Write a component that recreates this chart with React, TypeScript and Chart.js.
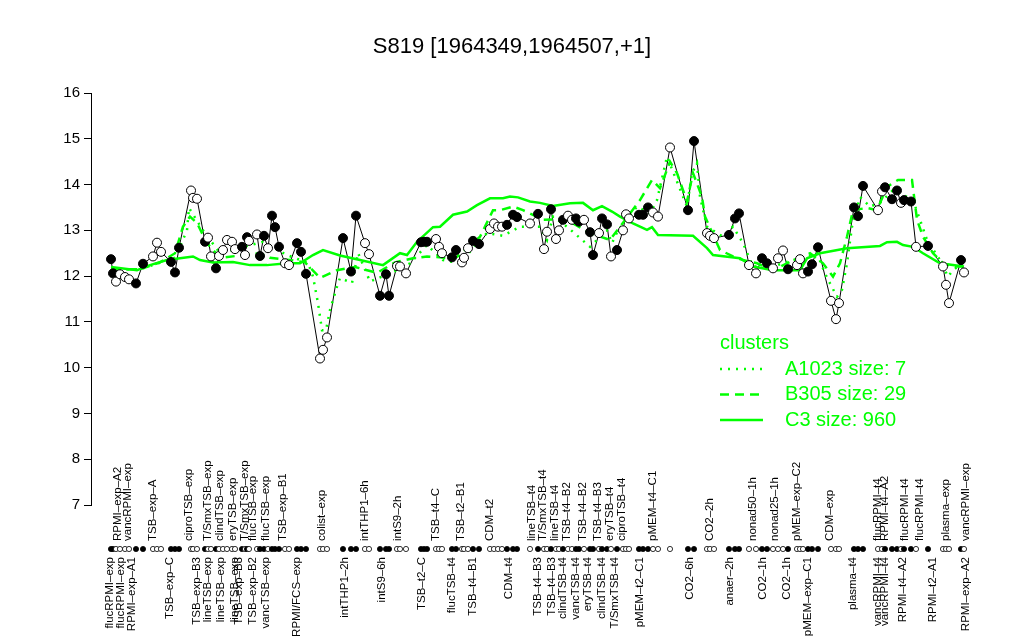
import React, { useEffect, useRef } from 'react';
import { Chart, registerables } from 'chart.js';

Chart.register(...registerables);

const TITLE = 'S819 [1964349,1964507,+1]';
const FONT = '"Liberation Sans", Arial, Helvetica, sans-serif';
const GREEN = '#00ff00';

// sample positions along the x axis, expression values, filled (1) / open (0)
const samplePos = [
  20, 22, 25, 29, 34, 38, 45, 52, 62, 66, 70, 80, 84, 88, 100, 102, 106,
  114, 117, 120, 125, 128, 132, 136, 141, 144, 151, 154, 156, 158, 166, 169, 173, 177, 181, 184, 188, 194, 198,
  206, 210, 215, 229, 232, 236, 252, 260, 265, 274, 278, 289, 295, 298, 306, 309, 315,
  330, 333, 336, 345, 348, 351, 361, 365, 371, 373, 377, 382, 388,
  399, 403, 407, 411, 416, 422, 426, 439, 447,
  453, 456, 460, 465, 468, 472, 477, 481, 485, 488, 493, 499, 502, 508, 511, 516, 520, 526, 532, 535, 538,
  548, 552, 557, 562, 567, 579, 597, 603, 616, 619, 623, 638, 644, 648,
  658, 665, 671, 676, 682, 687, 692, 697, 706, 709, 712, 717, 721, 727, 740, 745, 748,
  763, 767, 772, 787, 791, 794, 801, 806, 810, 813, 820, 825, 837, 852, 855, 858, 870, 873,
];
const sampleExpr = [
  12.37, 12.06, 11.88, 12.04, 11.98, 11.93, 11.84, 12.27, 12.43, 12.73, 12.53, 12.31, 12.08, 12.62, 13.87, 13.71, 13.69,
  12.75, 12.84, 12.43, 12.17, 12.44, 12.57, 12.79, 12.75, 12.59, 12.64, 12.46, 12.85, 12.77, 12.91, 12.44, 12.88, 12.61, 13.32, 13.07, 12.64, 12.28, 12.24,
  12.72, 12.53, 12.05, 10.2, 10.39, 10.66, 12.83, 12.1, 13.32, 12.72, 12.48, 11.57, 12.04, 11.57, 12.22, 12.21, 12.06,
  12.74, 12.75, 12.75, 12.81, 12.64, 12.5, 12.41, 12.57, 12.3, 12.4, 12.61, 12.77, 12.7,
  13.03, 13.15, 13.08, 13.08, 13.12, 13.34, 13.29, 13.15, 13.36,
  12.59, 12.97, 13.46, 12.81, 13.0, 13.23, 13.32, 13.23, 13.26, 13.19, 13.23, 12.96, 12.46, 12.94, 13.26, 13.13, 12.43, 12.57, 13.0, 13.35, 13.26,
  13.34, 13.34, 13.5, 13.39, 13.3, 14.81, 13.44, 14.95, 12.94, 12.88, 12.83, 12.9, 13.26, 13.37,
  12.24, 12.06, 12.39, 12.28, 12.17, 12.39, 12.56, 12.15, 12.24, 12.37, 12.06, 12.1, 12.26, 12.63, 11.46, 11.06, 11.41,
  13.5, 13.31, 13.97, 13.44, 13.85, 13.94, 13.68, 13.87, 13.6, 13.66, 13.63, 12.64, 12.66, 12.21, 11.81, 11.41, 12.35, 12.08,
];
const sampleFilled = [
  1, 1, 0, 0, 0, 0, 1, 1, 0, 0, 0, 1, 1, 1, 0, 0, 0,
  1, 0, 0, 1, 0, 0, 0, 0, 0, 1, 0, 1, 0, 0, 1, 1, 0, 1, 1, 1, 0, 0,
  1, 1, 1, 0, 0, 0, 1, 1, 1, 0, 0, 1, 1, 1, 0, 0, 0,
  1, 1, 1, 0, 0, 0, 1, 1, 0, 0, 0, 1, 1,
  0, 0, 0, 0, 1, 1, 1, 0, 1,
  0, 0, 1, 0, 0, 1, 0, 0, 1, 1, 0, 1, 1, 0, 1, 1, 0, 1, 0, 0, 0,
  1, 1, 1, 0, 0, 0, 1, 1, 0, 0, 0, 1, 1, 1,
  0, 0, 1, 1, 0, 0, 0, 1, 0, 0, 0, 1, 1, 1, 0, 0, 0,
  1, 1, 1, 0, 0, 1, 1, 1, 0, 1, 1, 0, 1, 0, 0, 0, 1, 0,
];

// cluster profiles
const c3Pos = [20, 46, 59, 76, 89, 102, 109, 122, 142, 159, 176, 196, 209, 222, 232, 249, 269, 292, 309, 316, 326, 342, 349, 362, 376, 386, 399, 412, 419, 427, 439, 449, 462, 479, 492, 502, 511, 521, 529, 542, 556, 561, 567, 602, 616, 622, 649, 662, 682, 709, 716, 729, 756, 789, 796, 806, 812, 822, 832, 849, 873];
const c3Val = [12.2, 12.13, 12.24, 12.35, 12.39, 12.43, 12.35, 12.3, 12.31, 12.24, 12.24, 12.28, 12.28, 12.46, 12.57, 12.45, 12.35, 12.24, 12.5, 12.46, 12.75, 13.07, 13.08, 13.34, 13.41, 13.55, 13.7, 13.7, 13.74, 13.72, 13.63, 13.6, 13.53, 13.59, 13.6, 13.44, 13.53, 13.41, 13.3, 13.15, 13.01, 13.07, 12.9, 12.88, 12.61, 12.46, 12.39, 12.21, 12.13, 12.13, 12.39, 12.5, 12.61, 12.66, 12.74, 12.75, 12.68, 12.64, 12.5, 12.28, 12.21];

const b305Pos = [20, 49, 69, 84, 92, 99, 106, 116, 129, 149, 169, 179, 199, 214, 229, 246, 264, 286, 304, 322, 336, 356, 366, 389, 394, 402, 409, 422, 432, 439, 452, 474, 499, 519, 529, 549, 561, 569, 579, 586, 596, 602, 611, 614, 629, 642, 652, 666, 682, 699, 719, 732, 742, 749, 756, 762, 776, 786, 796, 807, 821, 826, 832, 842, 852, 862, 871];
const b305Val = [12.15, 12.15, 12.3, 12.5, 13.08, 13.3, 13.16, 12.72, 12.4, 12.45, 12.5, 12.4, 12.35, 12.3, 11.96, 12.13, 12.2, 12.07, 12.3, 12.39, 12.43, 12.4, 12.42, 12.86, 13.08, 13.44, 13.44, 13.52, 13.44, 13.37, 13.23, 13.25, 12.94, 12.79, 13.08, 13.66, 14.1, 13.92, 14.5, 14.25, 13.63, 14.25, 13.73, 13.3, 12.57, 12.43, 12.35, 12.28, 12.13, 12.31, 12.5, 12.28, 11.99, 12.28, 12.86, 13.44, 13.49, 13.44, 13.95, 14.1, 14.1, 13.23, 12.86, 12.5, 12.28, 12.21, 12.21];

const a1023Pos = [20, 49, 56, 84, 96, 98, 112, 129, 172, 196, 217, 222, 227, 231, 235, 239, 246, 249, 261, 267, 279, 306, 319, 336, 352, 369, 386, 396, 412, 429, 449, 456, 462, 476, 499, 516, 521, 527, 546, 559, 566, 576, 596, 601, 606, 609, 616, 632, 642, 652, 662, 682, 702, 716, 726, 734, 739, 746, 751, 756, 761, 769, 779, 789, 802, 816, 822, 829, 836, 849, 857, 862, 871];
const a1023Val = [12.15, 12.15, 12.2, 12.4, 13.0, 13.49, 13.0, 12.5, 12.75, 12.46, 12.29, 11.99, 11.41, 10.82, 10.82, 11.26, 11.77, 11.96, 11.85, 12.51, 11.88, 12.13, 12.28, 12.68, 12.35, 12.28, 12.72, 12.94, 12.88, 13.08, 13.08, 12.79, 13.3, 13.08, 12.64, 13.0, 12.72, 13.0, 13.52, 13.37, 13.66, 14.61, 13.52, 14.25, 14.47, 13.73, 13.08, 12.86, 13.08, 12.72, 12.21, 12.21, 12.35, 12.43, 12.5, 12.06, 11.84, 11.55, 11.7, 12.28, 13.08, 13.73, 13.52, 13.6, 13.88, 13.73, 13.66, 13.23, 12.79, 12.35, 11.99, 12.13, 12.28];

// sample tick labels (below and above the dot strip)
const bottomNames = ['flucRPMI\u2013exp', 'flucRPMI\u2013exp', 'RPMI\u2013exp\u2013A1', 'TSB\u2013exp\u2013C', 'TSB\u2013exp\u2013B3', 'lineTSB\u2013exp', 'lineTSB\u2013exp', 'lineTSB\u2013exp', 'TSB\u2013exp\u2013B3', 'TSB\u2013exp\u2013B2', 'vancTSB\u2013exp', 'RPMI/FCS\u2013exp', 'intTHP1\u20132h', 'intS9\u20136h', 'TSB\u2013t2\u2013C', 'flucTSB\u2013t4', 'TSB\u2013t4\u2013B1', 'CDM\u2013t4', 'TSB\u2013t4\u2013B3', 'TSB\u2013t4\u2013B3', 'clindTSB\u2013t4', 'vancTSB\u2013t4', 'eryTSB\u2013t4', 'clindTSB\u2013t4', 'T/SmxTSB\u2013t4', 'pMEM\u2013t2\u2013C1', 'CO2\u20136h', 'anaer\u20132h', 'CO2\u20131h', 'CO2\u20131h', 'pMEM\u2013exp\u2013C1', 'plasma\u2013t4', 'vancRPMI\u2013t4', 'vancRPMI\u2013t4', 'RPMI\u2013t4\u2013A2', 'RPMI\u2013t2\u2013A1', 'RPMI\u2013exp\u2013A2'];
const bottomPos = [19, 30, 41, 79, 106, 117, 130, 144, 148, 162, 175, 206, 254, 291, 331, 361, 382, 418, 447, 461, 472, 485, 497, 511, 524, 549, 599, 639, 672, 696, 717, 762, 787, 794, 812, 842, 875];
const topNames = ['RPMI\u2013exp\u2013A2', 'vancRPMI\u2013exp', 'TSB\u2013exp\u2013A', 'ciproTSB\u2013exp', 'T/SmxTSB\u2013exp', 'clindTSB\u2013exp', 'eryTSB\u2013exp', 'T/SmxTSB\u2013exp', 'flucTSB\u2013exp', 'flucTSB\u2013exp', 'TSB\u2013exp\u2013B1', 'colist\u2013exp', 'intTHP1\u20136h', 'intS9\u20132h', 'TSB\u2013t4\u2013C', 'TSB\u2013t2\u2013B1', 'CDM\u2013t2', 'lineTSB\u2013t4', 'T/SmxTSB\u2013t4', 'lineTSB\u2013t4', 'TSB\u2013t4\u2013B2', 'TSB\u2013t4\u2013B2', 'TSB\u2013t4\u2013B3', 'eryTSB\u2013t4', 'ciproTSB\u2013t4', 'pMEM\u2013t4\u2013C1', 'CO2\u20132h', 'nonad50\u20131h', 'nonad25\u20131h', 'pMEM\u2013exp\u2013C2', 'CDM\u2013exp', 'flucRPMI\u2013t4', 'RPMI\u2013t4\u2013A2', 'flucRPMI\u2013t4', 'flucRPMI\u2013t4', 'plasma\u2013exp', 'vancRPMI\u2013exp'];
const topPos = [27, 37, 62, 98, 117, 129, 142, 154, 162, 175, 192, 231, 274, 307, 345, 370, 399, 441, 452, 464, 476, 492, 507, 519, 531, 562, 619, 662, 684, 706, 739, 787, 794, 814, 829, 855, 875];

const legendTitle = 'clusters';
const legendNames = ['A1023 size: 7', 'B305 size: 29', 'C3 size: 960'];
const legendDash = [[2, 6], [9, 6], []];

const overlayPlugin = {
  id: 'overlay',
  afterDraw(chart: any) {
    const { ctx, chartArea, scales } = chart;
    const xs = scales.x;
    ctx.save();
    // title
    ctx.fillStyle = '#000';
    ctx.font = `22px ${FONT}`;
    ctx.textAlign = 'center';
    ctx.textBaseline = 'middle';
    ctx.fillText(TITLE, chart.width / 2, 47);

    // dot strip
    const yDot = chartArea.bottom + 44;
    samplePos.forEach((p, i) => {
      ctx.beginPath();
      ctx.arc(xs.getPixelForValue(p), yDot, 2.6, 0, Math.PI * 2);
      ctx.fillStyle = sampleFilled[i] ? '#000' : '#fff';
      ctx.fill();
      ctx.lineWidth = 0.8;
      ctx.strokeStyle = '#000';
      ctx.stroke();
    });

    // labels
    ctx.fillStyle = '#000';
    ctx.font = `11.5px ${FONT}`;
    ctx.textBaseline = 'middle';
    bottomNames.forEach((n, i) => {
      ctx.save();
      ctx.translate(xs.getPixelForValue(bottomPos[i]), yDot + 8);
      ctx.rotate(-Math.PI / 2);
      ctx.textAlign = 'right';
      ctx.fillText(n, 0, 0);
      ctx.restore();
    });
    topNames.forEach((n, i) => {
      ctx.save();
      ctx.translate(xs.getPixelForValue(topPos[i]), yDot - 8);
      ctx.rotate(-Math.PI / 2);
      ctx.textAlign = 'left';
      ctx.fillText(n, 0, 0);
      ctx.restore();
    });

    // legend
    const lx = chartArea.left + 629;
    const ly = chartArea.top + 250;
    ctx.font = `20px ${FONT}`;
    ctx.textAlign = 'left';
    ctx.fillStyle = GREEN;
    ctx.fillText(legendTitle, lx, ly);
    legendNames.forEach((n, i) => {
      const y = ly + 26 + i * 25.5;
      ctx.beginPath();
      ctx.setLineDash(legendDash[i]);
      ctx.strokeStyle = GREEN;
      ctx.lineWidth = 2.5;
      ctx.moveTo(lx, y);
      ctx.lineTo(lx + 43, y);
      ctx.stroke();
      ctx.setLineDash([]);
      ctx.fillStyle = GREEN;
      ctx.fillText(n, lx + 65, y);
    });
    ctx.restore();
  },
};

export default function App() {
  const ref = useRef<HTMLCanvasElement | null>(null);
  useEffect(() => {
    if (!ref.current) return;
    const pts = samplePos.map((p, i) => ({ x: p, y: sampleExpr[i] }));
    const mk = (pos: number[], val: number[]) => pos.map((p, i) => ({ x: p, y: val[i] }));
    const chart = new Chart(ref.current, {
      type: 'line',
      data: {
        datasets: [
          {
            label: 'samples',
            data: pts,
            showLine: false,
            pointRadius: 4.5,
            pointBorderWidth: 1,
            pointBorderColor: '#000',
            pointBackgroundColor: sampleFilled.map((f) => (f ? '#000' : '#fff')),
            order: 0,
          },
          {
            label: 'A1023',
            data: mk(a1023Pos, a1023Val),
            borderColor: GREEN,
            borderWidth: 2.5,
            borderDash: [2, 6],
            pointRadius: 0,
            order: 1,
          },
          {
            label: 'B305',
            data: mk(b305Pos, b305Val),
            borderColor: GREEN,
            borderWidth: 2.5,
            borderDash: [9, 6],
            pointRadius: 0,
            order: 1,
          },
          {
            label: 'C3',
            data: mk(c3Pos, c3Val),
            borderColor: GREEN,
            borderWidth: 2.5,
            pointRadius: 0,
            order: 1,
          },
          {
            label: 'profile',
            data: pts,
            borderColor: '#000',
            borderWidth: 1,
            pointRadius: 0,
            order: 2,
          },
        ],
      },
      options: {
        animation: false,
        responsive: false,
        devicePixelRatio: 1,
        layout: { padding: { top: 93, right: 39, bottom: 135, left: 0 } },
        plugins: { legend: { display: false }, tooltip: { enabled: false }, title: { display: false } },
        scales: {
          x: { type: 'linear', display: false, min: 0, max: 894 },
          y: {
            min: 7,
            max: 16,
            ticks: { stepSize: 1, color: '#000', font: { size: 15, family: FONT }, padding: 4 },
            grid: { drawOnChartArea: false, color: '#000', tickLength: 7, lineWidth: 1 },
            border: { display: true, color: '#000', width: 1 },
            afterFit: (s: any) => {
              s.width = 91;
            },
          },
        },
      },
      plugins: [overlayPlugin],
    });
    return () => chart.destroy();
  }, []);
  return (
    <div style={{ position: 'fixed', left: 0, top: 0, width: 1024, height: 640, background: '#fff' }}>
      <canvas ref={ref} width={1024} height={640} />
    </div>
  );
}
